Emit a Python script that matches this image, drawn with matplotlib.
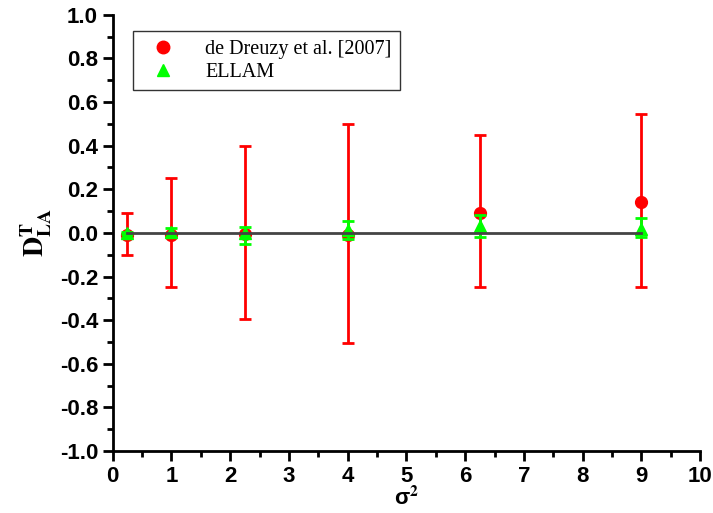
import numpy as np
import matplotlib
matplotlib.use("Agg")
import matplotlib.pyplot as plt
from matplotlib.ticker import MultipleLocator
from matplotlib.lines import Line2D

plt.rcParams['mathtext.fontset'] = 'stix'

# sigma^2 values
sigma2 = [0.25, 1, 2.25, 4, 6.25, 9]

# de Dreuzy et al. [2007]
dreuzy_mean = [-0.01, -0.01, -0.005, -0.01, 0.093, 0.144]
dreuzy_low = [-0.10, -0.25, -0.395, -0.505, -0.25, -0.25]
dreuzy_high = [0.09, 0.25, 0.40, 0.50, 0.45, 0.546]

# ELLAM
ellam_mean = [0.0, 0.005, 0.0, 0.014, 0.03, 0.02]
ellam_low = [-0.005, -0.017, -0.052, -0.029, -0.017, -0.017]
ellam_high = [0.005, 0.023, 0.029, 0.055, 0.083, 0.07]

# reference line
line_x = [0.25, 9]
line_y = [0, 0]

yticks = [-1.0, -0.8, -0.6, -0.4, -0.2, 0.0, 0.2, 0.4, 0.6, 0.8, 1.0]

fig = plt.figure(figsize=(7.13, 5.13), dpi=100)
ax = fig.add_axes([0.158, 0.121, 0.824, 0.850])

d_err = [np.array(dreuzy_mean) - np.array(dreuzy_low),
         np.array(dreuzy_high) - np.array(dreuzy_mean)]
e_err = [np.array(ellam_mean) - np.array(ellam_low),
         np.array(ellam_high) - np.array(ellam_mean)]

ax.errorbar(sigma2, dreuzy_mean, yerr=d_err, fmt='o', color='#ff0000',
            ms=8.5, elinewidth=2, capsize=4.2, capthick=2, zorder=3)
ax.errorbar(sigma2, ellam_mean, yerr=e_err, fmt='^', color='#00ff00',
            ms=8, elinewidth=2, capsize=4.2, capthick=2, zorder=4)
ax.plot(line_x, line_y, color='#444444', lw=2, zorder=5)

ax.set_xlim(0, 10)
ax.set_ylim(-1.0, 1.0)
ax.xaxis.set_major_locator(MultipleLocator(1))
ax.xaxis.set_minor_locator(MultipleLocator(0.5))
ax.set_yticks(yticks)
ax.set_yticklabels([f'{v:.1f}' for v in yticks])
ax.yaxis.set_minor_locator(MultipleLocator(0.1))

for s in ['top', 'right']:
    ax.spines[s].set_visible(False)
for s in ['left', 'bottom']:
    ax.spines[s].set_linewidth(2)

ax.tick_params(which='major', direction='out', length=7, width=2,
               labelsize=16)
ax.tick_params(which='minor', direction='out', length=4, width=2)
for lab in ax.get_xticklabels() + ax.get_yticklabels():
    lab.set_fontweight('bold')
    lab.set_family('Liberation Sans')

ax.set_xlabel(r'σ$^{\mathbf{2}}$', fontsize=16, fontweight='bold',
              family='Liberation Sans', labelpad=0)
ax.set_ylabel(r'$\mathbf{D^{T}_{LA}}$', fontsize=20, labelpad=4)

handles = [
    Line2D([], [], marker='o', ls='none', color='#ff0000', ms=9),
    Line2D([], [], marker='^', ls='none', color='#00ff00', ms=8),
]
leg = ax.legend(handles, ['de Dreuzy et al. [2007]', 'ELLAM'],
                loc='upper left', bbox_to_anchor=(0.034, 0.962),
                prop={'family': 'Liberation Serif', 'size': 14.5},
                frameon=True, fancybox=False, edgecolor='black',
                handlelength=2.2, handletextpad=1.0, borderpad=0.4,
                labelspacing=0.2, borderaxespad=0)
leg.get_frame().set_linewidth(1)

fig.savefig('out.png', dpi=100)
